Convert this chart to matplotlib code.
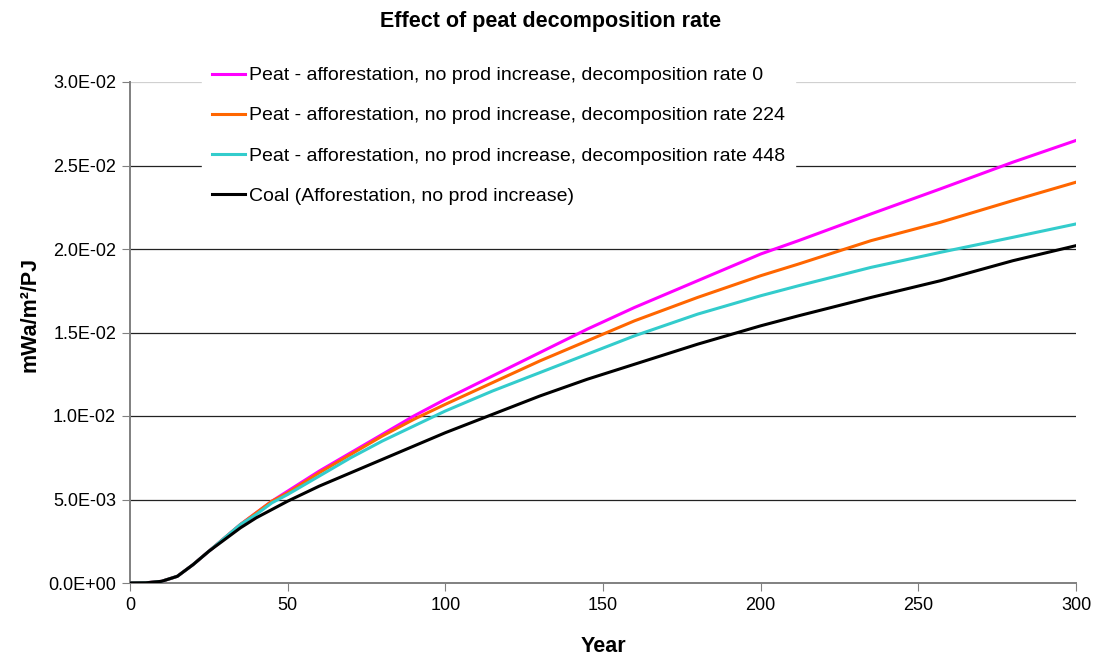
import matplotlib.pyplot as plt
from matplotlib.ticker import FuncFormatter, MultipleLocator

# ======= data ====================================
years = [0, 5, 10, 15, 20, 25, 30, 35, 40, 45, 50, 60, 70, 80, 90, 100, 115, 130, 145,
         160, 180, 200, 212, 235, 257, 280, 300]

peat_rate0 = [0, 0.00001, 0.0001, 0.0004, 0.0011, 0.0019, 0.0027, 0.0035, 0.0042, 0.0049, 0.0055,
              0.0067, 0.0078, 0.0089, 0.0100, 0.0110, 0.0124, 0.0138, 0.0152, 0.0165, 0.0181,
              0.0197, 0.0205, 0.0221, 0.0236, 0.0252, 0.0265]
peat_rate224 = [0, 0.00001, 0.0001, 0.0004, 0.0011, 0.0019, 0.0027, 0.0035, 0.0042, 0.0049, 0.0054,
                0.0066, 0.0077, 0.0088, 0.0098, 0.0107, 0.0120, 0.0133, 0.0145, 0.0157, 0.0171,
                0.0184, 0.0191, 0.0205, 0.0216, 0.0229, 0.0240]
peat_rate448 = [0, 0.00001, 0.0001, 0.0004, 0.0011, 0.0019, 0.0027, 0.0035, 0.0041, 0.0048, 0.0053,
                0.0064, 0.0075, 0.0085, 0.0094, 0.0103, 0.0115, 0.0126, 0.0137, 0.0148, 0.0161,
                0.0172, 0.0178, 0.0189, 0.0198, 0.0207, 0.0215]
coal = [0, 0.00001, 0.0001, 0.0004, 0.0011, 0.0019, 0.0026, 0.0033, 0.0039, 0.0044, 0.0049,
        0.0058, 0.0066, 0.0074, 0.0082, 0.0090, 0.0101, 0.0112, 0.0122, 0.0131, 0.0143,
        0.0154, 0.0160, 0.0171, 0.0181, 0.0193, 0.0202]

labels = ["Peat - afforestation, no prod increase, decomposition rate 0",
          "Peat - afforestation, no prod increase, decomposition rate 224",
          "Peat - afforestation, no prod increase, decomposition rate 448",
          "Coal (Afforestation, no prod increase)"]
colors = ["#FF00FF", "#FF6600", "#33CCCC", "#000000"]

# ================================
plt.rcParams['font.family'] = ['Liberation Sans', 'DejaVu Sans']
W, H = 1097, 656

fig = plt.figure(figsize=(W / 100, H / 100), dpi=100)
ax = fig.add_axes([130 / W, 1 - 583 / H, 946 / W, 501 / H])

for serie, lab, col in zip([peat_rate0, peat_rate224, peat_rate448, coal], labels, colors):
    ax.plot(years, serie, color=col, linewidth=2.2, label=lab, zorder=3)

ax.set_xlim(0, 300)
ax.set_ylim(0, 0.03)
ax.xaxis.set_major_locator(MultipleLocator(50))
ax.yaxis.set_major_locator(MultipleLocator(0.005))
ax.yaxis.set_major_formatter(FuncFormatter(lambda v, p: f"{v:.1E}"))

# lineas horizontales
for yv in [0.005, 0.01, 0.015, 0.02, 0.025]:
    ax.axhline(yv, color="#222222", linewidth=0.9, zorder=1)
ax.axhline(0.03, color="#d0d0d0", linewidth=0.9, zorder=1)

for s in ["top", "right"]:
    ax.spines[s].set_visible(False)
for s in ["left", "bottom"]:
    ax.spines[s].set_color("#808080")
    ax.spines[s].set_linewidth(1.4)
ax.tick_params(axis='both', direction='out', length=6, color="#808080", labelsize=13, pad=4)

fig.text(551 / W, 1 - 21 / H, "Effect of peat decomposition rate", fontsize=15.5,
         fontweight='bold', ha='center', va='center')
fig.text(603 / W, 1 - 646 / H, "Year", fontsize=15.5, fontweight='bold', ha='center', va='center')
fig.text(30 / W, 1 - 314 / H, "mWa/m²/PJ", fontsize=15.5, fontweight='bold', ha='center',
         va='center', rotation=90)

leg = fig.legend(loc='upper left', bbox_to_anchor=(202 / W, 1 - 57 / H), fontsize=14,
                 frameon=True, fancybox=False, framealpha=1, edgecolor='white', facecolor='white',
                 handlelength=1.7, handletextpad=0.2, labelspacing=1.16, borderpad=0.5,
                 borderaxespad=0)
leg.set_zorder(5)

plt.savefig("out.png", dpi=100)
plt.close()
